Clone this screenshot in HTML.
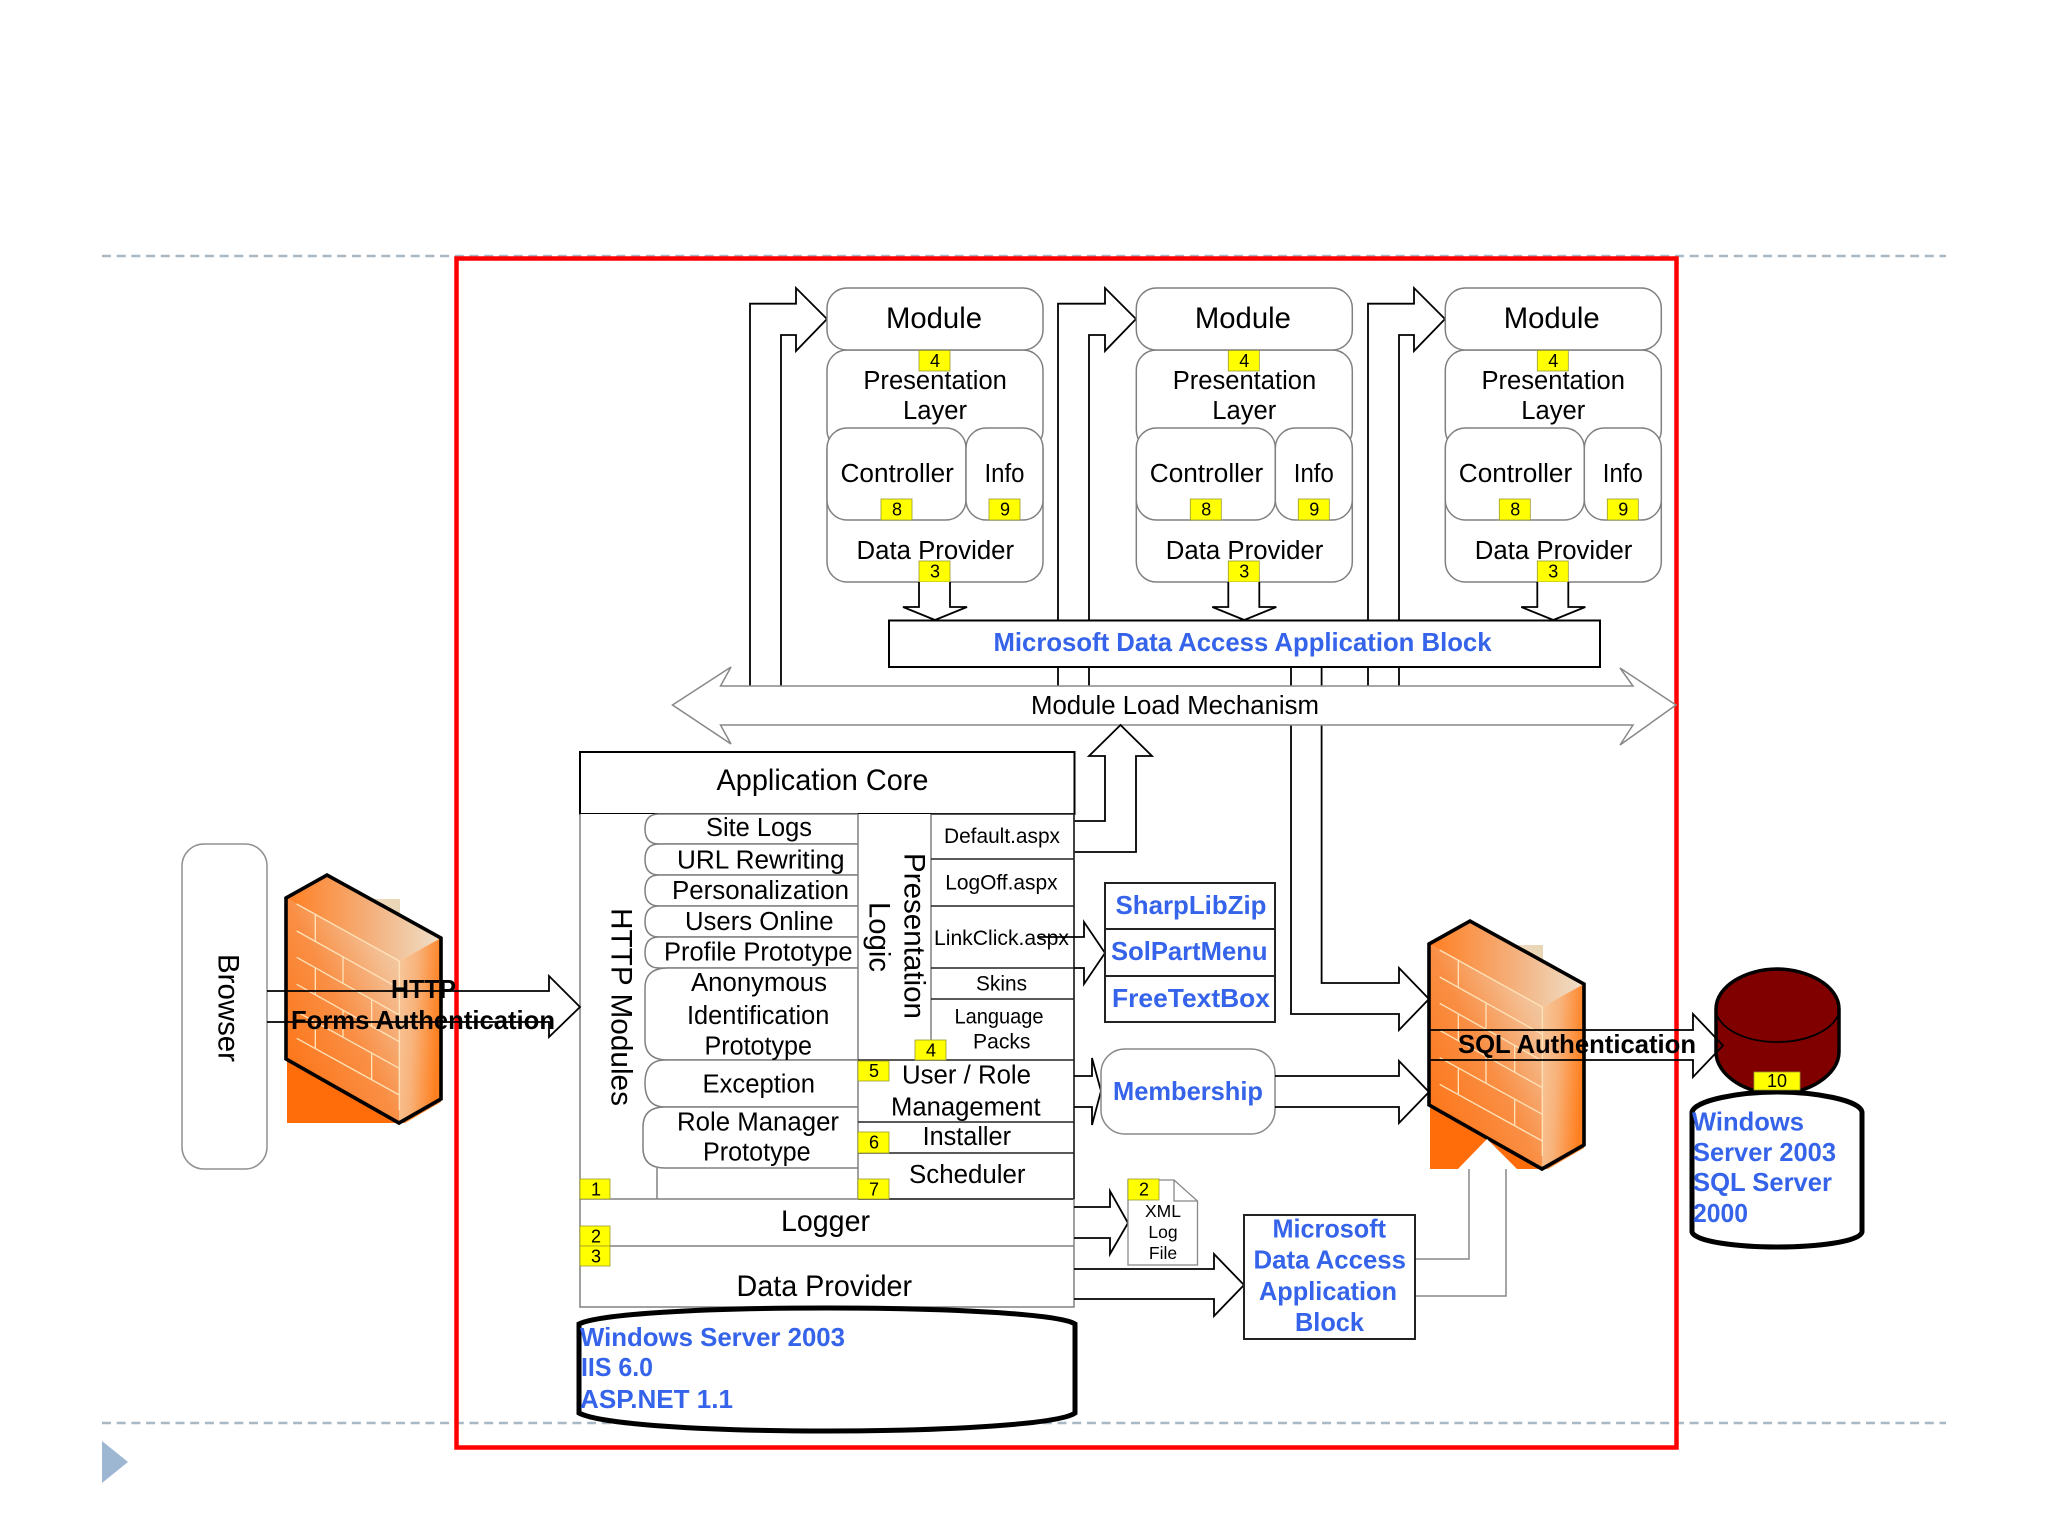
<!DOCTYPE html>
<html><head><meta charset="utf-8"><style>
html,body{margin:0;padding:0;background:#fff}
svg{display:block}
text{font-family:"Liberation Sans",sans-serif;fill:#000}
.m{font-size:25.5px}.l{font-size:30px}.s{font-size:21.5px}
.b{font-size:26px;font-weight:bold;fill:#3563e9}
.k{font-size:26px;font-weight:bold;fill:#000}
.d{font-size:18px;text-anchor:middle}
.g{fill:#fff;stroke:#808080;stroke-width:1.5}
.a{fill:#fff;stroke:#000;stroke-width:1.8}
.n{fill:none;stroke:#000;stroke-width:1.8}
.y{fill:#ff0;stroke:#9a9a30;stroke-width:.8}
</style></head><body>
<svg width="2048" height="1536" viewBox="0 0 2048 1536" xmlns="http://www.w3.org/2000/svg">
<defs>
<linearGradient id="f1" x1="0" y1="1" x2="1" y2="0"><stop offset="0" stop-color="#ff6c08"/><stop offset=".5" stop-color="#f98f45"/><stop offset=".78" stop-color="#f4bd90"/><stop offset="1" stop-color="#ecd9bd"/></linearGradient>
<linearGradient id="f2" x1="0" y1="0" x2="1" y2="0"><stop offset="0" stop-color="#ff7e22"/><stop offset=".55" stop-color="#f4b07c"/><stop offset="1" stop-color="#eee0ca"/></linearGradient>
<linearGradient id="f3" x1="0" y1="0" x2="1" y2=".25"><stop offset="0" stop-color="#f7c89c"/><stop offset=".45" stop-color="#f8b27a"/><stop offset="1" stop-color="#ff8020"/></linearGradient>
<linearGradient id="f4" x1="0" y1="0" x2="1" y2="0"><stop offset="0" stop-color="#fff"/><stop offset=".5" stop-color="#f1dcc0"/><stop offset="1" stop-color="#e8d5b5"/></linearGradient>
<g id="fw">
<polygon points="335,899 400,899 400,936" fill="url(#f4)"/>
<polygon points="287,1059 287,1123 399,1123" fill="#ff6d0a"/>
<polygon points="399,1123 441,1099 441,1102 405,1123" fill="#ff8a30"/>
<polygon points="286,898 399,961 399,1123 286,1059" fill="url(#f1)"/>
<polygon points="286,898 327,875 441,938 399,961" fill="url(#f2)"/>
<polygon points="399,961 441,938 441,1099 399,1123" fill="url(#f3)"/>
<g transform="translate(160,820) scale(.33333)" stroke="#ffe2b8" stroke-width="4" fill="none">
<path d="M410,252L718,423M410,333L718,505M410,412L718,585M410,493L718,665M410,575L718,745M410,655L718,825M466,285V365M466,445V525M466,605V685M549,410V490M549,570V650M635,540V620M635,700V780M718,423V870"/>
</g>
<polygon points="286,898 327,875 441,938 441,1099 399,1123 286,1059" fill="none" stroke="#000" stroke-width="3.6"/>
</g>
</defs>
<rect width="2048" height="1536" fill="#fff"/>
<path d="M102,256H1946M102,1423H1946" stroke="#a8b8c4" stroke-width="2.4" stroke-dasharray="9 5.7" fill="none"/>
<polygon points="102,1441 128,1462 102,1483" fill="#9db7d3"/>

<rect x="182" y="844" width="85" height="325" rx="22" fill="#fff" stroke="#909090" stroke-width="1.5"/>
<text class="l" transform="translate(218.5,954) rotate(90)" textLength="108" lengthAdjust="spacingAndGlyphs">Browser</text>

<use href="#fw"/>
<use href="#fw" x="1143" y="46"/>

<rect x="456.5" y="258.5" width="1220" height="1189" fill="none" stroke="#f00" stroke-width="4.5"/>

<!-- vertical arrows to modules -->
<path class="a" d="M750,686V303.7H796V288L827,319L796,351V335H781V686"/>
<path class="a" d="M1058,686V303.7H1105V288L1136,319L1105,351V335H1089V686"/>
<path class="a" d="M1368,686V303.7H1414V288L1445,319L1414,351V335H1399V686"/>

<!-- module 1 -->
<g>
<rect class="g" x="827" y="430" width="216" height="152" rx="20"/>
<rect class="g" x="827" y="350" width="216" height="100" rx="20"/>
<rect class="g" x="827" y="288" width="216" height="62" rx="20"/>
<rect class="g" x="827" y="428" width="139" height="92" rx="20"/>
<rect class="g" x="966" y="428" width="77" height="92" rx="20"/>
<text class="l" x="886" y="328" textLength="96" lengthAdjust="spacingAndGlyphs">Module</text>
<text class="m" x="863.4" y="389" textLength="143.5" lengthAdjust="spacingAndGlyphs">Presentation</text>
<text class="m" x="903" y="419" textLength="64" lengthAdjust="spacingAndGlyphs">Layer</text>
<text class="m" x="840.5" y="482" textLength="113.4" lengthAdjust="spacingAndGlyphs">Controller</text>
<text class="m" x="984.5" y="482" textLength="40" lengthAdjust="spacingAndGlyphs">Info</text>
<text class="m" x="856.5" y="559" textLength="157.6" lengthAdjust="spacingAndGlyphs">Data Provider</text>
<rect class="y" x="919" y="350.5" width="31" height="20.5"/><text class="d" x="935" y="367">4</text>
<rect class="y" x="881" y="499" width="31" height="21"/><text class="d" x="897" y="515.5">8</text>
<rect class="y" x="989" y="499" width="31" height="21"/><text class="d" x="1005" y="515.5">9</text>
<rect class="y" x="919" y="561" width="31" height="21"/><text class="d" x="935" y="577.5">3</text>
<path class="a" d="M919,582V607H903L935,620L967,607H950V582"/>
</g>
<g transform="translate(309.3,0)">
<rect class="g" x="827" y="430" width="216" height="152" rx="20"/>
<rect class="g" x="827" y="350" width="216" height="100" rx="20"/>
<rect class="g" x="827" y="288" width="216" height="62" rx="20"/>
<rect class="g" x="827" y="428" width="139" height="92" rx="20"/>
<rect class="g" x="966" y="428" width="77" height="92" rx="20"/>
<text class="l" x="885.6" y="328" textLength="96" lengthAdjust="spacingAndGlyphs">Module</text>
<text class="m" x="863.4" y="389" textLength="143.5" lengthAdjust="spacingAndGlyphs">Presentation</text>
<text class="m" x="903" y="419" textLength="64" lengthAdjust="spacingAndGlyphs">Layer</text>
<text class="m" x="840.5" y="482" textLength="113.4" lengthAdjust="spacingAndGlyphs">Controller</text>
<text class="m" x="984.5" y="482" textLength="40" lengthAdjust="spacingAndGlyphs">Info</text>
<text class="m" x="856.5" y="559" textLength="157.6" lengthAdjust="spacingAndGlyphs">Data Provider</text>
<rect class="y" x="919" y="350.5" width="31" height="20.5"/><text class="d" x="935" y="367">4</text>
<rect class="y" x="881" y="499" width="31" height="21"/><text class="d" x="897" y="515.5">8</text>
<rect class="y" x="989" y="499" width="31" height="21"/><text class="d" x="1005" y="515.5">9</text>
<rect class="y" x="919" y="561" width="31" height="21"/><text class="d" x="935" y="577.5">3</text>
<path class="a" d="M919,582V607H903L935,620L967,607H950V582"/>
</g>
<g transform="translate(618.3,0)">
<rect class="g" x="827" y="430" width="216" height="152" rx="20"/>
<rect class="g" x="827" y="350" width="216" height="100" rx="20"/>
<rect class="g" x="827" y="288" width="216" height="62" rx="20"/>
<rect class="g" x="827" y="428" width="139" height="92" rx="20"/>
<rect class="g" x="966" y="428" width="77" height="92" rx="20"/>
<text class="l" x="885.4" y="328" textLength="96" lengthAdjust="spacingAndGlyphs">Module</text>
<text class="m" x="863.2" y="389" textLength="143.5" lengthAdjust="spacingAndGlyphs">Presentation</text>
<text class="m" x="903" y="419" textLength="64" lengthAdjust="spacingAndGlyphs">Layer</text>
<text class="m" x="840.5" y="482" textLength="113.4" lengthAdjust="spacingAndGlyphs">Controller</text>
<text class="m" x="984.5" y="482" textLength="40" lengthAdjust="spacingAndGlyphs">Info</text>
<text class="m" x="856.5" y="559" textLength="157.6" lengthAdjust="spacingAndGlyphs">Data Provider</text>
<rect class="y" x="919" y="350.5" width="31" height="20.5"/><text class="d" x="935" y="367">4</text>
<rect class="y" x="881" y="499" width="31" height="21"/><text class="d" x="897" y="515.5">8</text>
<rect class="y" x="989" y="499" width="31" height="21"/><text class="d" x="1005" y="515.5">9</text>
<rect class="y" x="919" y="561" width="31" height="21"/><text class="d" x="935" y="577.5">3</text>
<path class="a" d="M919,582V607H903L935,620L967,607H950V582"/>
</g>

<!-- lines from data access block to firewall -->
<path class="n" d="M1291,667V1014H1399V1030L1429,999L1399,968V983H1321.6V667" stroke-width="1.6"/>

<!-- MDAAB -->
<rect x="889" y="620.5" width="711" height="46.5" fill="#fff" stroke="#000" stroke-width="2"/>
<text class="b" x="993.5" y="651" textLength="498" lengthAdjust="spacingAndGlyphs">Microsoft Data Access Application Block</text>

<!-- Module load -->
<polygon points="672.5,705 731,667 720.5,686 1633,686 1620,668 1676,705 1620,745 1633,725 720.5,725 731,744" fill="#fff" stroke="#888" stroke-width="1.5"/>
<text class="m" x="1031" y="714" textLength="288" lengthAdjust="spacingAndGlyphs">Module Load Mechanism</text>

<!-- Core -->
<path class="a" d="M1074,821H1105V756H1089L1120.5,725L1152,756H1136V852H1074"/>
<rect x="580" y="752" width="494.5" height="62" fill="#fff" stroke="#000" stroke-width="2"/>
<text x="716.5" y="790" class="l" font-size="31" textLength="212" lengthAdjust="spacingAndGlyphs">Application Core</text>
<path d="M580,814V1199H1074V814" fill="#fff" stroke="#808080" stroke-width="1.5"/>
<path d="M1074,814V1199" stroke="#222" stroke-width="1.6" fill="none"/>

<g class="g">
<path d="M858,814H659Q645,814 645,829Q645,844 659,844H858"/>
<path d="M858,844H659Q645,844 645,859.5Q645,875 659,875H858"/>
<path d="M858,875H659Q645,875 645,890.5Q645,906 659,906H858"/>
<path d="M858,906H659Q645,906 645,921.5Q645,937 659,937H858"/>
<path d="M858,937H659Q645,937 645,952.5Q645,968 659,968H858"/>
<path d="M858,968H668Q645,968 645,988V1040Q645,1060 668,1060H858"/>
<path d="M858,1060H665Q645,1060 645,1083Q645,1107 665,1107H858"/>
<path d="M858,1107H665Q643,1107 643,1127V1148Q643,1168 665,1168H858"/>
</g>
<path d="M657,1168V1199M858,814V1199M931,814V1060" stroke="#808080" stroke-width="1.5" fill="none"/>
<path d="M931,814H1074M931,859H1074M931,906H1074M931,968H1074M931,999H1074M858,1060H1074M858,1122H1074M858,1153H1074M858,1199H1074" stroke="#222" stroke-width="1.6" fill="none"/>
<path d="M580,1246H1074" stroke="#808080" stroke-width="1.5"/>
<path d="M580,1199V1307H1074V1199" fill="none" stroke="#808080" stroke-width="1.5"/>

<text class="m" x="706" y="836" textLength="106" lengthAdjust="spacingAndGlyphs">Site Logs</text>
<text class="m" x="677" y="868.5" textLength="167.6" lengthAdjust="spacingAndGlyphs">URL Rewriting</text>
<text class="m" x="672" y="899" textLength="177" lengthAdjust="spacingAndGlyphs">Personalization</text>
<text class="m" x="685" y="930" textLength="148.5" lengthAdjust="spacingAndGlyphs">Users Online</text>
<text class="m" x="664" y="960.5" textLength="188.5" lengthAdjust="spacingAndGlyphs">Profile Prototype</text>
<text class="m" x="691" y="991" textLength="136" lengthAdjust="spacingAndGlyphs">Anonymous</text>
<text class="m" x="687" y="1024" textLength="142.4" lengthAdjust="spacingAndGlyphs">Identification</text>
<text class="m" x="704.5" y="1054.5" textLength="107.5" lengthAdjust="spacingAndGlyphs">Prototype</text>
<text class="m" x="702.5" y="1092.5" textLength="112.5" lengthAdjust="spacingAndGlyphs">Exception</text>
<text class="m" x="677" y="1130.5" textLength="162" lengthAdjust="spacingAndGlyphs">Role Manager</text>
<text class="m" x="703" y="1160.5" textLength="107.6" lengthAdjust="spacingAndGlyphs">Prototype</text>

<text class="l" transform="translate(611.5,908) rotate(90)" textLength="198" lengthAdjust="spacingAndGlyphs">HTTP Modules</text>
<text class="l" transform="translate(869.5,902) rotate(90)" textLength="70" lengthAdjust="spacingAndGlyphs">Logic</text>
<text class="l" transform="translate(904.5,853) rotate(90)" textLength="166" lengthAdjust="spacingAndGlyphs">Presentation</text>

<text class="s" x="944" y="843" textLength="116" lengthAdjust="spacingAndGlyphs">Default.aspx</text>
<text class="s" x="945.2" y="889.5" textLength="112.4" lengthAdjust="spacingAndGlyphs">LogOff.aspx</text>
<text class="s" x="934" y="945" textLength="135" lengthAdjust="spacingAndGlyphs">LinkClick.aspx</text>
<text class="s" x="976" y="990.5" textLength="51" lengthAdjust="spacingAndGlyphs">Skins</text>
<text class="s" x="954.5" y="1023.5" textLength="89" lengthAdjust="spacingAndGlyphs">Language</text>
<text class="s" x="973" y="1048.5" textLength="57.5" lengthAdjust="spacingAndGlyphs">Packs</text>
<text class="m" x="902" y="1083.5" textLength="129" lengthAdjust="spacingAndGlyphs">User / Role</text>
<text class="m" x="891" y="1115.5" textLength="149.6" lengthAdjust="spacingAndGlyphs">Management</text>
<text class="m" x="922.6" y="1145" textLength="88.4" lengthAdjust="spacingAndGlyphs">Installer</text>
<text class="m" x="909" y="1183" textLength="116.5" lengthAdjust="spacingAndGlyphs">Scheduler</text>
<text class="l" x="781" y="1231" textLength="89" lengthAdjust="spacingAndGlyphs">Logger</text>
<text class="l" x="736.5" y="1296" textLength="175.6" lengthAdjust="spacingAndGlyphs">Data Provider</text>

<rect class="y" x="915" y="1040" width="31" height="20"/><text class="d" x="931" y="1056.5">4</text>
<rect class="y" x="858" y="1061" width="31" height="20"/><text class="d" x="874" y="1077">5</text>
<rect class="y" x="858" y="1132" width="31" height="21"/><text class="d" x="874" y="1148.5">6</text>
<rect class="y" x="858" y="1179" width="31" height="20"/><text class="d" x="874" y="1195.5">7</text>
<rect class="y" x="580" y="1179" width="30" height="20"/><text class="d" x="596" y="1195.5">1</text>
<rect class="y" x="580" y="1226" width="30" height="20"/><text class="d" x="596" y="1242.5">2</text>
<rect class="y" x="580" y="1246" width="30" height="20"/><text class="d" x="596" y="1262.5">3</text>

<!-- link click arrow -->
<path class="n" d="M1038,937H1084V922L1105,953L1084,984V968H1074"/>
<g fill="#fff" stroke="#222" stroke-width="2">
<rect x="1105" y="883" width="170" height="46"/><rect x="1105" y="929" width="170" height="47"/><rect x="1105" y="976" width="170" height="46"/>
</g>
<text class="b" x="1115.5" y="914" textLength="151" lengthAdjust="spacingAndGlyphs">SharpLibZip</text>
<text class="b" x="1111" y="960" textLength="156.5" lengthAdjust="spacingAndGlyphs">SolPartMenu</text>
<text class="b" x="1112" y="1007" textLength="158" lengthAdjust="spacingAndGlyphs">FreeTextBox</text>

<path class="n" d="M1074,1076H1092V1058L1101,1091L1092,1125V1107H1074"/>
<rect x="1101" y="1049" width="174" height="85" rx="24" fill="#fff" stroke="#888" stroke-width="1.5"/>
<text class="b" x="1113" y="1100" textLength="150" lengthAdjust="spacingAndGlyphs">Membership</text>
<path class="n" d="M1275,1076H1399V1061L1429,1092L1399,1123V1107H1275"/>

<!-- logger arrows -->
<path class="n" d="M1074,1207H1110V1191L1128,1223L1110,1254V1238H1074"/>
<path class="n" d="M1074,1269H1214V1254L1244,1285L1214,1316V1299H1074"/>

<!-- xml file -->
<path d="M1128,1180H1174L1197.5,1201V1265H1128Z" fill="#fff" stroke="#888" stroke-width="1.3"/>
<path d="M1174,1180V1201H1197.5" fill="none" stroke="#888" stroke-width="1.3"/>
<rect class="y" x="1128" y="1179" width="31" height="21"/><text class="d" x="1144" y="1195.5">2</text>
<text x="1163" y="1217" font-size="17.5" text-anchor="middle">XML</text>
<text x="1163" y="1238" font-size="17.5" text-anchor="middle">Log</text>
<text x="1163" y="1259" font-size="17.5" text-anchor="middle">File</text>

<!-- data access box -->
<polygon points="1457,1170 1487,1139 1518,1170" fill="#fff"/>
<path d="M1415,1259H1469V1169M1506,1169V1296H1415" fill="none" stroke="#888" stroke-width="1.5"/>
<rect x="1244" y="1215" width="171" height="124" fill="#fff" stroke="#222" stroke-width="2"/>
<text class="b" x="1272.5" y="1237.5" textLength="113.5" lengthAdjust="spacingAndGlyphs">Microsoft</text>
<text class="b" x="1253.5" y="1268.5" textLength="152.5" lengthAdjust="spacingAndGlyphs">Data Access</text>
<text class="b" x="1259" y="1300" textLength="138" lengthAdjust="spacingAndGlyphs">Application</text>
<text class="b" x="1295" y="1331" textLength="69" lengthAdjust="spacingAndGlyphs">Block</text>

<!-- bottom cylinder -->
<path d="M579,1324C600,1314 700,1308 827,1308C950,1308 1060,1314 1075,1324V1413C1060,1424 950,1431 827,1431C700,1431 600,1424 579,1413Z" fill="#fff" stroke="#000" stroke-width="5"/>
<text class="b" x="580" y="1346" textLength="265" lengthAdjust="spacingAndGlyphs">Windows Server 2003</text>
<text class="b" x="581" y="1376" textLength="72" lengthAdjust="spacingAndGlyphs">IIS 6.0</text>
<text class="b" x="580" y="1408" textLength="153" lengthAdjust="spacingAndGlyphs">ASP.NET 1.1</text>

<!-- db cylinder -->
<path d="M1716,1009C1716,986 1746,969 1777,969C1808,969 1839,986 1839,1009V1052C1839,1075 1808,1094 1777,1094C1746,1094 1716,1075 1716,1052Z" fill="#800000" stroke="#000" stroke-width="3.5"/>
<path d="M1716,1013C1722,1030 1746,1042 1777,1042C1808,1042 1833,1030 1839,1013" fill="none" stroke="#000" stroke-width="1.8"/>
<path d="M1692,1112C1695,1100 1740,1092 1777,1092C1815,1092 1860,1100 1862,1112V1232C1860,1242 1815,1247 1777,1247C1740,1247 1695,1242 1692,1232Z" fill="#fff" stroke="#000" stroke-width="5"/>
<rect class="y" x="1754" y="1072" width="46" height="18"/><text class="d" x="1777" y="1087">10</text>
<text class="b" x="1692" y="1130.5" textLength="112" lengthAdjust="spacingAndGlyphs">Windows</text>
<text class="b" x="1693" y="1161" textLength="143" lengthAdjust="spacingAndGlyphs">Server 2003</text>
<text class="b" x="1693" y="1191" textLength="139" lengthAdjust="spacingAndGlyphs">SQL Server</text>
<text class="b" x="1693" y="1222" textLength="55" lengthAdjust="spacingAndGlyphs">2000</text>

<!-- transparent arrows -->
<path class="n" d="M267,991H549V976L580,1007L549,1037V1022H267"/>
<path class="n" d="M1429,1030H1693V1014L1723,1045.5L1693,1077V1060H1429"/>
<text class="k" x="391" y="998" textLength="65" lengthAdjust="spacingAndGlyphs">HTTP</text>
<text class="k" x="291" y="1029" textLength="264" lengthAdjust="spacingAndGlyphs">Forms Authentication</text>
<text class="k" x="1458" y="1053" textLength="238" lengthAdjust="spacingAndGlyphs">SQL Authentication</text>
</svg>
</body></html>
